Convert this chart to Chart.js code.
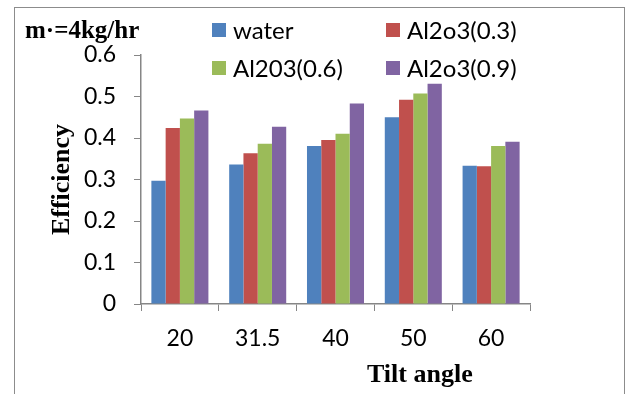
<!DOCTYPE html>
<html>
<head>
<meta charset="utf-8">
<script src="https://cdn.jsdelivr.net/npm/chart.js@4/dist/chart.umd.min.js"></script>
<style>
  body { margin: 0; background: #fff; }
  #wrap { position: relative; width: 625px; height: 394px; overflow: hidden; }
  #frame { position: absolute; left: 14px; top: 7px; width: 611px; height: 420px;
           box-sizing: border-box; border: 1px solid #8c8c8c; }
  .serif { position: absolute; font-family: "Liberation Serif", serif; font-weight: bold;
           line-height: 1; color: #000; white-space: nowrap; }
  #title { left: 25px; top: 17px; font-size: 25px; }
  #xtitle { left: 367px; top: 361px; font-size: 26px; }
  .leg { position: absolute; display: flex; align-items: center; height: 24px;
         font-family: Lato, sans-serif; font-size: 24px; line-height: 1; color: #000; }
  .leg i { display: inline-block; width: 14px; height: 14px; margin-right: 7px; }
</style>
</head>
<body>
<div id="wrap">
  <canvas id="c"></canvas>
  <div id="frame"></div>
  <div id="title" class="serif">m·=4kg/hr</div>
  <div id="xtitle" class="serif">Tilt angle</div>
  <div id="legend"></div>
</div>
<script>
/* Efficiency vs tilt angle, m = 4 kg/hr */
const angles = ['20', '31.5', '40', '50', '60'];
const water = [0.297, 0.336, 0.381, 0.450, 0.333];
const al03  = [0.424, 0.363, 0.395, 0.492, 0.332];
const al06  = [0.447, 0.386, 0.410, 0.507, 0.381];
const al09  = [0.466, 0.427, 0.483, 0.531, 0.391];
const seriesNames = ['water', 'Al2o3(0.3)', 'Al203(0.6)', 'Al2o3(0.9)'];
const colors = ['#4F81BD', '#C0504D', '#9BBB59', '#8064A2'];
const yTicks = [0, 0.1, 0.2, 0.3, 0.4, 0.5, 0.6];

/* legend is drawn in HTML (two fixed columns like the original) */
const legPos = [[212, 22], [386, 22], [212, 60], [386, 60]];
const legend = document.getElementById('legend');
seriesNames.forEach((name, i) => {
  const d = document.createElement('div');
  d.className = 'leg';
  d.style.left = legPos[i][0] + 'px';
  d.style.top = legPos[i][1] - 4 + 'px';
  d.innerHTML = `<i style="background:${colors[i]}"></i><span>${name}</span>`;
  legend.appendChild(d);
});

const axisColor = '#868686';
const tickFont = { family: 'Lato', size: 23 };

new Chart(document.getElementById('c'), {
  type: 'bar',
  data: {
    labels: angles,
    datasets: [water, al03, al06, al09].map((vals, i) => ({
      label: seriesNames[i],
      data: vals,
      backgroundColor: colors[i],
      borderWidth: 0,
      barPercentage: 1.0,
      categoryPercentage: 0.733,
    }))
  },
  options: {
    responsive: true,
    maintainAspectRatio: false,
    animation: false,
    layout: { padding: { top: 55, left: 0, right: 95, bottom: 0 } },
    plugins: {
      legend: { display: false },
      tooltip: { enabled: false }
    },
    scales: {
      x: {
        afterFit: (s) => { s.height = 90; },
        grid: { drawOnChartArea: false, tickLength: 7, color: axisColor, offset: true },
        border: { color: axisColor, width: 1.5 },
        ticks: { color: '#000', font: tickFont, padding: 14 }
      },
      y: {
        min: 0,
        max: 0.6,
        afterFit: (s) => { s.width = 141; },
        afterBuildTicks: (s) => { s.ticks = yTicks.map(v => ({ value: v })); },
        grid: { drawOnChartArea: false, tickLength: 7, color: axisColor },
        border: { color: axisColor, width: 1.5 },
        ticks: {
          color: '#000',
          font: tickFont,
          padding: 18,
          callback: (v) => String(+v.toFixed(1))
        },
        title: {
          display: true,
          text: 'Efficiency',
          color: '#000',
          font: { family: 'Liberation Serif', size: 26, weight: 'bold' },
          padding: { top: 47, bottom: 0 }
        }
      }
    }
  }
});
</script>
</body>
</html>
